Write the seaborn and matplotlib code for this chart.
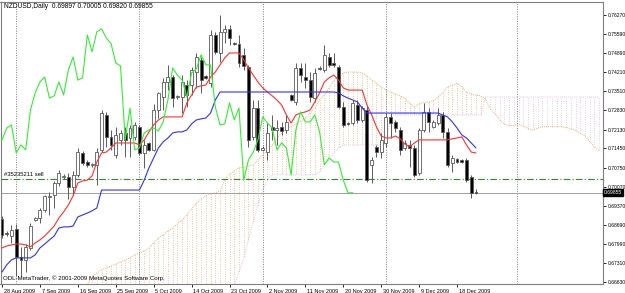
import matplotlib
matplotlib.use("Agg")
import matplotlib.pyplot as plt
import matplotlib.transforms as mtransforms
import numpy as np
import seaborn as sns

# NZDUSD daily candles, bar 0 = 28 Aug 2009 (broker has Sunday bars)
OPEN = [
    0.6891, 0.6840, 0.6829, 0.6854, 0.6753, 0.6743, 0.6786, 0.6887, 0.6894, 0.6923,
    0.6970, 0.6977, 0.7021, 0.7042, 0.7042, 0.7006, 0.7050, 0.7129, 0.7096, 0.7086,
    0.7086, 0.7140, 0.7266, 0.7187, 0.7122, 0.7176, 0.7201, 0.7183, 0.7187, 0.7223,
    0.7129, 0.7165, 0.7140, 0.7284, 0.7331, 0.7385, 0.7403, 0.7331, 0.7331, 0.7374,
    0.7374, 0.7421, 0.7465, 0.7407, 0.7382, 0.7555, 0.7490, 0.7566, 0.7577, 0.7526,
    0.7522, 0.7483, 0.7439, 0.7187, 0.7291, 0.7140, 0.7132, 0.7223, 0.7212, 0.7223,
    0.7212, 0.7338, 0.7313, 0.7436, 0.7403, 0.7392, 0.7327, 0.7436, 0.7429, 0.7475,
    0.7454, 0.7439, 0.7295, 0.7237, 0.7237, 0.7302, 0.7248, 0.7284, 0.7086, 0.7151,
    0.7132, 0.7165, 0.7259, 0.7241, 0.7212, 0.7147, 0.7158, 0.7147, 0.7057, 0.7212,
    0.7277, 0.7223, 0.7237, 0.7266, 0.7205, 0.7093, 0.7107, 0.7104, 0.7104, 0.7042,
    0.69897,
]
HIGH = [
    0.6902, 0.6847, 0.6869, 0.6873, 0.6790, 0.6800, 0.6876, 0.6898, 0.6930, 0.6977,
    0.6988, 0.7028, 0.7068, 0.7053, 0.7057, 0.7064, 0.7147, 0.7136, 0.7104, 0.7093,
    0.7147, 0.7284, 0.7277, 0.7212, 0.7223, 0.7212, 0.7223, 0.7230, 0.7241, 0.7230,
    0.7176, 0.7169, 0.7306, 0.7349, 0.7400, 0.7447, 0.7410, 0.7338, 0.7410, 0.7392,
    0.7439, 0.7490, 0.7475, 0.7410, 0.7573, 0.7566, 0.7627, 0.7591, 0.7591, 0.7530,
    0.7555, 0.7508, 0.7447, 0.7320, 0.7320, 0.7154, 0.7237, 0.7266, 0.7248, 0.7241,
    0.7266, 0.7342, 0.7454, 0.7454, 0.7454, 0.7421, 0.7436, 0.7443, 0.7519, 0.7490,
    0.7490, 0.7447, 0.7313, 0.7241, 0.7320, 0.7320, 0.7299, 0.7299, 0.7114, 0.7158,
    0.7201, 0.7273, 0.7273, 0.7248, 0.7223, 0.7176, 0.7176, 0.7158, 0.7219, 0.7310,
    0.7291, 0.7248, 0.7291, 0.7277, 0.7219, 0.7122, 0.7111, 0.7107, 0.7111, 0.7050,
    0.70005,
]
LOW = [
    0.6822, 0.6829, 0.6804, 0.6685, 0.6685, 0.6699, 0.6779, 0.6883, 0.6876, 0.6916,
    0.6905, 0.6930, 0.7010, 0.7035, 0.6963, 0.6977, 0.7042, 0.7086, 0.7078, 0.7078,
    0.7013, 0.7132, 0.7151, 0.7140, 0.7111, 0.7158, 0.7114, 0.7114, 0.7176, 0.7122,
    0.7075, 0.7136, 0.7136, 0.7255, 0.7284, 0.7356, 0.7295, 0.7324, 0.7273, 0.7295,
    0.7338, 0.7364, 0.7346, 0.7396, 0.7367, 0.7486, 0.7457, 0.7526, 0.7519, 0.7519,
    0.7439, 0.7429, 0.7151, 0.7176, 0.7132, 0.7136, 0.7104, 0.7176, 0.7158, 0.7194,
    0.7201, 0.7317, 0.7302, 0.7385, 0.7364, 0.7313, 0.7313, 0.7429, 0.7421, 0.7439,
    0.7439, 0.7291, 0.7223, 0.7230, 0.7230, 0.7237, 0.7241, 0.7024, 0.7021, 0.7114,
    0.7111, 0.7151, 0.7183, 0.7205, 0.7122, 0.7140, 0.7078, 0.7042, 0.7050, 0.7205,
    0.7205, 0.7219, 0.7230, 0.7183, 0.7078, 0.7060, 0.7093, 0.7093, 0.7024, 0.6966,
    0.69820,
]
CLOSE = [
    0.6833, 0.6837, 0.6851, 0.6753, 0.6743, 0.6790, 0.6865, 0.6894, 0.6923, 0.6974,
    0.6974, 0.7021, 0.7057, 0.7046, 0.7006, 0.7050, 0.7132, 0.7093, 0.7086, 0.7089,
    0.7132, 0.7273, 0.7187, 0.7158, 0.7194, 0.7201, 0.7176, 0.7219, 0.7230, 0.7129,
    0.7158, 0.7140, 0.7284, 0.7346, 0.7385, 0.7403, 0.7327, 0.7335, 0.7385, 0.7338,
    0.7429, 0.7475, 0.7392, 0.7400, 0.7555, 0.7494, 0.7566, 0.7577, 0.7544, 0.7524,
    0.7454, 0.7443, 0.7176, 0.7291, 0.7140, 0.7147, 0.7201, 0.7212, 0.7219, 0.7208,
    0.7241, 0.7320, 0.7436, 0.7410, 0.7392, 0.7331, 0.7418, 0.7432, 0.7483, 0.7447,
    0.7447, 0.7295, 0.7230, 0.7234, 0.7310, 0.7248, 0.7291, 0.7031, 0.7104, 0.7132,
    0.7176, 0.7259, 0.7237, 0.7219, 0.7140, 0.7165, 0.7147, 0.7050, 0.7212, 0.7277,
    0.7241, 0.7241, 0.7266, 0.7205, 0.7086, 0.7111, 0.7096, 0.7096, 0.7031, 0.6985,
    0.69855,
]

# Ichimoku lines
TENKAN = [
    0.6786, 0.6793, 0.6797, 0.6800, 0.6800, 0.6797, 0.6790, 0.6804, 0.6815, 0.6829,
    0.6847, 0.6865, 0.6894, 0.6916, 0.6941, 0.6974, 0.7021, 0.7028, 0.7031, 0.7046,
    0.7096, 0.7129, 0.7132, 0.7147, 0.7165, 0.7165, 0.7165, 0.7165, 0.7165, 0.7158,
    0.7176, 0.7205, 0.7230, 0.7248, 0.7259, 0.7259, 0.7259, 0.7259, 0.7259, 0.7310,
    0.7338, 0.7367, 0.7371, 0.7374, 0.7403, 0.7421, 0.7447, 0.7472, 0.7490, 0.7490,
    0.7490, 0.7465, 0.7436, 0.7410, 0.7385, 0.7364, 0.7349, 0.7335, 0.7320, 0.7302,
    0.7266, 0.7237, 0.7266, 0.7273, 0.7277, 0.7284, 0.7313, 0.7346, 0.7385, 0.7400,
    0.7410, 0.7392, 0.7364, 0.7356, 0.7356, 0.7356, 0.7356, 0.7302, 0.7266, 0.7223,
    0.7190, 0.7183, 0.7183, 0.7190, 0.7180, 0.7161, 0.7151, 0.7165, 0.7176, 0.7176,
    0.7176, 0.7176, 0.7176, 0.7176, 0.7176, 0.7180, 0.7183, 0.7187, 0.7158, 0.7132,
    0.7129,
]
KIJUN = [
    0.6699, 0.6725, 0.6743, 0.6750, 0.6750, 0.6750, 0.6750, 0.6761, 0.6786, 0.6800,
    0.6815, 0.6829, 0.6858, 0.6862, 0.6862, 0.6865, 0.6898, 0.6905, 0.6912, 0.6920,
    0.6930, 0.6995, 0.6995, 0.6995, 0.6995, 0.6995, 0.6995, 0.6995, 0.6995, 0.6995,
    0.7031, 0.7075, 0.7111, 0.7147, 0.7169, 0.7183, 0.7201, 0.7205, 0.7205, 0.7212,
    0.7234, 0.7248, 0.7252, 0.7255, 0.7273, 0.7320, 0.7349, 0.7349, 0.7349, 0.7349,
    0.7349, 0.7349, 0.7349, 0.7349, 0.7349, 0.7349, 0.7349, 0.7349, 0.7349, 0.7349,
    0.7349, 0.7349, 0.7349, 0.7349, 0.7349, 0.7349, 0.7349, 0.7349, 0.7349, 0.7349,
    0.7349, 0.7346, 0.7335, 0.7327, 0.7320, 0.7313, 0.7291, 0.7273, 0.7273, 0.7273,
    0.7273, 0.7273, 0.7273, 0.7273, 0.7273, 0.7273, 0.7273, 0.7273, 0.7273, 0.7273,
    0.7273, 0.7273, 0.7273, 0.7266, 0.7259, 0.7241, 0.7219, 0.7194, 0.7183, 0.7165,
    0.7147,
]

# cloud spans start at bar 16 and run 26 bars past the last candle
CLOUD_START = 16
SPAN_A = [
    0.6616, 0.6634, 0.6656, 0.6681, 0.6696, 0.6707, 0.6714, 0.6721, 0.6728, 0.6735,
    0.6743, 0.6750, 0.6761, 0.6768, 0.6775, 0.6786, 0.6804, 0.6822, 0.6833, 0.6847,
    0.6858, 0.6873, 0.6887, 0.6905, 0.6927, 0.6948, 0.6963, 0.6974, 0.6981, 0.6985,
    0.6992, 0.7031, 0.7053, 0.7064, 0.7075, 0.7078, 0.7082, 0.7086, 0.7104, 0.7122,
    0.7140, 0.7158, 0.7183, 0.7201, 0.7219, 0.7226, 0.7234, 0.7244, 0.7255, 0.7273,
    0.7291, 0.7320, 0.7338, 0.7364, 0.7389, 0.7407, 0.7418, 0.7421, 0.7421, 0.7421,
    0.7418, 0.7407, 0.7392, 0.7380, 0.7367, 0.7356, 0.7349, 0.7342, 0.7335, 0.7326,
    0.7308, 0.7295, 0.7306, 0.7311, 0.7313, 0.7317, 0.7331, 0.7347, 0.7367, 0.7374,
    0.7380, 0.7369, 0.7349, 0.7342, 0.7338, 0.7335, 0.7324, 0.7288, 0.7270, 0.7248,
    0.7232, 0.7228, 0.7228, 0.7232, 0.7226, 0.7217, 0.7212, 0.7219, 0.7224, 0.7224,
    0.7224, 0.7224, 0.7224, 0.7221, 0.7217, 0.7210, 0.7201, 0.7190, 0.7170, 0.7149,
    0.7138,
]
SPAN_B = [
    0.6598, 0.6598, 0.6598, 0.6598, 0.6598, 0.6598, 0.6598, 0.6598, 0.6598, 0.6598,
    0.6598, 0.6598, 0.6598, 0.6598, 0.6598, 0.6598, 0.6598, 0.6598, 0.6598, 0.6598,
    0.6598, 0.6598, 0.6598, 0.6598, 0.6598, 0.6598, 0.6598, 0.6598, 0.6598, 0.6598,
    0.6598, 0.6598, 0.6634, 0.6652, 0.6699, 0.6750, 0.6815, 0.6880, 0.6941, 0.6995,
    0.7031, 0.7050, 0.7050, 0.7050, 0.7050, 0.7050, 0.7050, 0.7050, 0.7050, 0.7050,
    0.7050, 0.7060, 0.7086, 0.7104, 0.7129, 0.7147, 0.7158, 0.7158, 0.7158, 0.7158,
    0.7158, 0.7158, 0.7158, 0.7158, 0.7158, 0.7158, 0.7266, 0.7266, 0.7266, 0.7266,
    0.7266, 0.7266, 0.7266, 0.7266, 0.7266, 0.7266, 0.7266, 0.7266, 0.7266, 0.7266,
    0.7266, 0.7266, 0.7266, 0.7266, 0.7266, 0.7266, 0.7331, 0.7331, 0.7331, 0.7331,
    0.7331, 0.7331, 0.7331, 0.7331, 0.7331, 0.7331, 0.7331, 0.7331, 0.7331, 0.7331,
    0.7331, 0.7331, 0.7331, 0.7331, 0.7331, 0.7331, 0.7331, 0.7331, 0.7331, 0.7331,
    0.7331,
]
CHIKOU_SHIFT = 26

DATE_TICKS = [0, 8, 16, 24, 32, 40, 48, 56, 64, 72, 80, 88, 96]
DATE_LABELS = ["28 Aug 2009", "7 Sep 2009", "16 Sep 2009", "25 Sep 2009",
               "5 Oct 2009", "14 Oct 2009", "23 Oct 2009", "2 Nov 2009",
               "11 Nov 2009", "20 Nov 2009", "30 Nov 2009", "9 Dec 2009",
               "18 Dec 2009"]
PRICE_TICKS = [0.76270, 0.75590, 0.74890, 0.74210, 0.73510, 0.72830, 0.72130,
               0.71450, 0.70750, 0.70070, 0.69370, 0.68690, 0.67990, 0.67310,
               0.66630]
MONTH_SEPARATORS = [3, 29, 55, 81, 108.6]
ORDER_PRICE = 0.7035
BID = 0.69855

sns.set_theme(style="white")
plt.rcParams["font.family"] = ["Liberation Sans", "DejaVu Sans"]

W, H = 625, 293
fig = plt.figure(figsize=(W / 100, H / 100), dpi=100)
ax = fig.add_axes([0.5 / W, 9 / H, 602.5 / W, 282 / H])

# cloud: dotted histogram between the spans
cb = np.arange(CLOUD_START, CLOUD_START + len(SPAN_A))
sa, sb = np.array(SPAN_A), np.array(SPAN_B)
cloud_cols = np.where(sa >= sb, "#f5ac78", "#d8bcd8")
ax.vlines(cb, sa, sb, colors=cloud_cols, linestyles=(0, (1, 1.8)), lw=0.6, zorder=1)
sns.lineplot(x=cb, y=sa, ax=ax, color="#f4a460", lw=0.65, linestyle=(0, (1, 1.3)), zorder=1)
sns.lineplot(x=cb, y=sb, ax=ax, color="#d8bfd8", lw=0.65, linestyle=(0, (1, 1.3)), zorder=1)

for s in MONTH_SEPARATORS:
    ax.axvline(s, color="#808080", lw=0.7, linestyle=(0, (1, 1.5)), zorder=2)

ax.axhline(BID, color="#a0a0a0", lw=0.7, zorder=2)
ax.axhline(ORDER_PRICE, color="#2e8b2e", lw=0.8, linestyle=(0, (6, 2, 1, 2)), zorder=2)

# candles
bars = np.arange(len(CLOSE))
o, h, l, c = (np.array(v) for v in (OPEN, HIGH, LOW, CLOSE))
up = c >= o
ax.vlines(bars, l, h, color="#5a5a5a", lw=0.7, zorder=3)
ax.bar(bars, np.maximum(np.abs(c - o), 0.00004), bottom=np.minimum(o, c), width=0.62,
       color=np.where(up, "white", "black"), edgecolor="#5a5a5a", linewidth=0.6, zorder=4)

# tenkan / kijun / chikou
sns.lineplot(x=bars, y=TENKAN, ax=ax, color="#ff3030", lw=0.8, zorder=5)
sns.lineplot(x=bars, y=KIJUN, ax=ax, color="#3030ff", lw=0.8, zorder=5)
ck = np.arange(CHIKOU_SHIFT - 1, len(CLOSE))
sns.lineplot(x=ck - CHIKOU_SHIFT, y=c[ck], ax=ax, color="#33ee33", lw=0.8, zorder=5)

ax.set_xlim(-0.32, 126.8)
ax.set_ylim(0.66558, 0.76739)
ax.set_xlabel("")
ax.set_ylabel("")

ax.yaxis.tick_right()
ax.set_yticks(PRICE_TICKS)
ax.set_yticklabels([f"{v:.5f}" for v in PRICE_TICKS])
ax.tick_params(axis="y", length=2.5, width=0.6, pad=1.0, labelsize=3.6, colors="black",
               right=True, left=False)
ax.set_xticks(DATE_TICKS)
ax.set_xticklabels(DATE_LABELS, ha="left")
ax.tick_params(axis="x", length=2.5, width=0.6, pad=0.8, labelsize=4, colors="black",
               bottom=True)
shift = mtransforms.ScaledTranslation(1.2 / 72, 0, fig.dpi_scale_trans)
for lbl in ax.get_xticklabels():
    lbl.set_transform(lbl.get_transform() + shift)

for sp in ax.spines.values():
    sp.set_color("#7f7f7f")
    sp.set_linewidth(0.8)

fig.text(4 / W, 1 - 6.5 / H, "NZDUSD,Daily  0.69897 0.70005 0.69820 0.69855",
         fontsize=4.8, ha="left", va="center", color="black")
fig.text(3 / W, 1 - 278 / H, "ODL-MetaTrader, \u00a9 2001-2009 MetaQuotes Software Corp.",
         fontsize=4.4, ha="left", va="center", color="black")
fig.text(4 / W, 1 - 174.5 / H, "#35235211 sell", fontsize=4.2, ha="left", va="center",
         color="black")
fig.text(604 / W, 1 - 192.5 / H, f"{BID:.5f}", fontsize=3.6, ha="left", va="center",
         color="white", bbox=dict(facecolor="black", edgecolor="black", pad=0.8))

fig.savefig("out.png", dpi=100)
